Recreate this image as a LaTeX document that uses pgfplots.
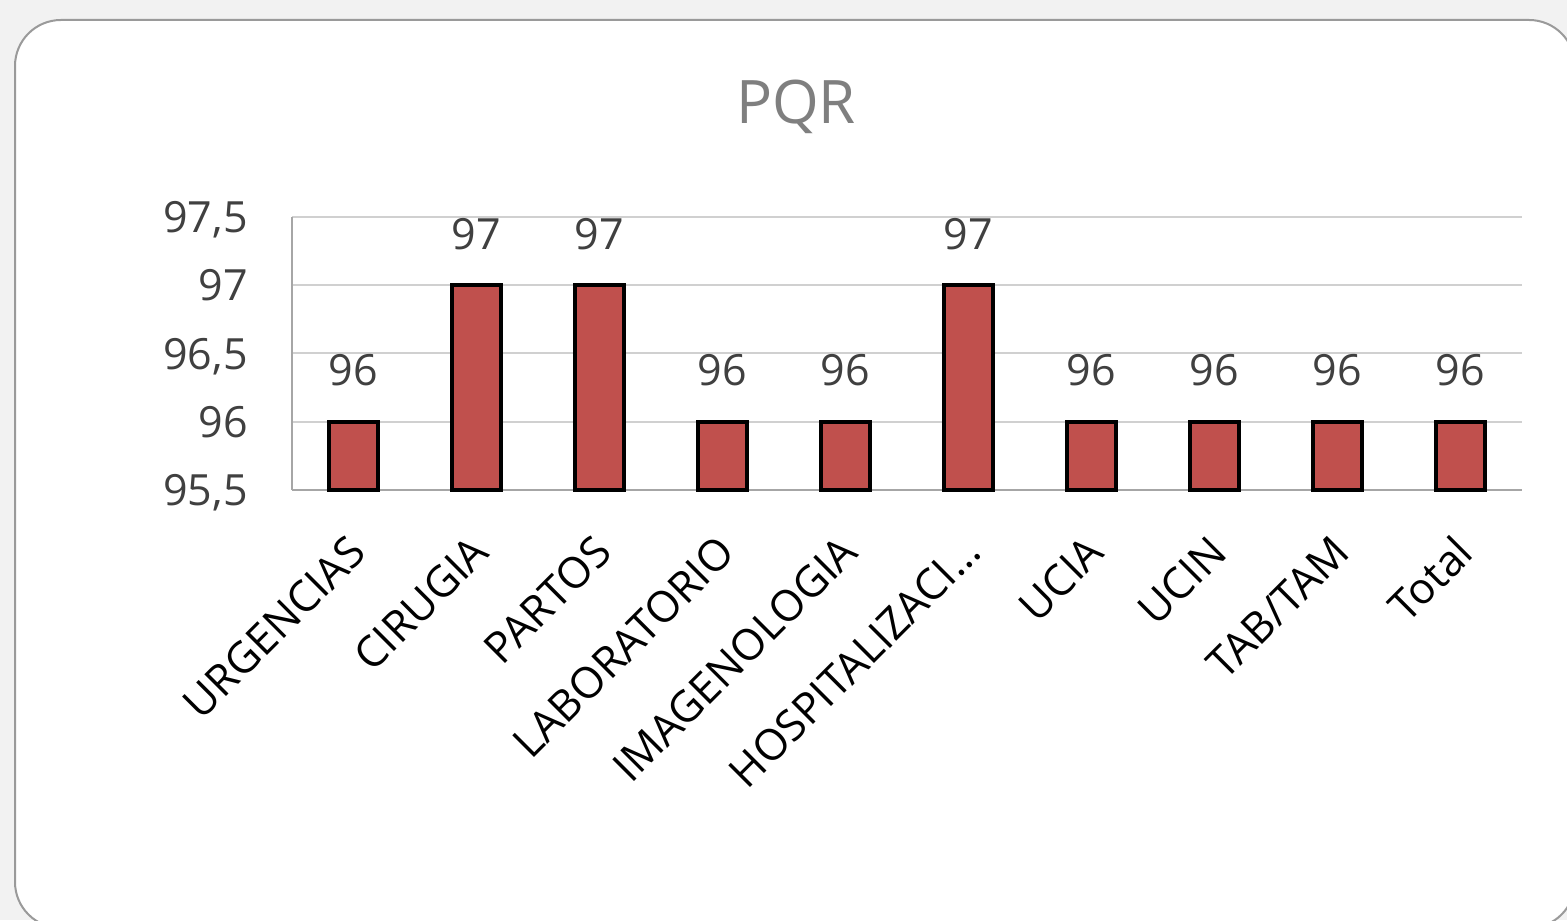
\documentclass[border=0pt]{standalone}
\usepackage{pgfplots}
\pgfplotsset{compat=1.18}
\usepackage{fontspec}
\setmainfont{Open Sans}

\definecolor{barred}{HTML}{C0504D}
\definecolor{gridgray}{HTML}{D0D0D0}
\definecolor{axgray}{HTML}{A6A6A6}
\definecolor{txtgray}{HTML}{404040}
\definecolor{titlegray}{HTML}{7F7F7F}
\definecolor{bggray}{HTML}{F2F2F2}
\definecolor{cardline}{HTML}{9A9A9A}

\newcommand{\lblfont}{\fontsize{21.5}{26}\selectfont}

\begin{document}
\begin{tikzpicture}
% 1 px of the reference = 0.5pt
\path[use as bounding box] (0,0) rectangle (783.5pt,460pt);
\begin{scope}
  \clip (0,0) rectangle (783.5pt,460pt);
  \fill[bggray] (0,0) rectangle (783.5pt,460pt);
  \draw[cardline, line width=1pt, fill=white, rounded corners=23pt]
    (7.5pt,-4pt) rectangle (787.5pt,450pt);
\end{scope}

\node[text=titlegray, font=\fontsize{30}{36}\selectfont] at (398pt,406.5pt) {PQR};

\begin{axis}[
    at={(146pt,215pt)}, anchor=south west,
    scale only axis,
    width=615pt, height=136.5pt,
    xmin=-0.5, xmax=9.5,
    ymin=95.5, ymax=97.5,
    ytick={95.5,96,96.5,97,97.5},
    xtick={0,...,9},
    xticklabels={URGENCIAS,CIRUGIA,PARTOS,LABORATORIO,IMAGENOLOGIA,HOSPITALIZACI…,UCIA,UCIN,TAB/TAM,Total},
    /pgf/number format/.cd, fixed, use comma, precision=1,
    /pgfplots/.cd,
    /pgf/number format/assume math mode=true,
    axis x line*=bottom,
    axis y line*=left,
    axis line style={-, axgray, line width=1pt},
    major tick length=0pt,
    ymajorgrids,
    major grid style={gridgray, line width=1pt},
    yticklabel style={font=\lblfont, text=txtgray, inner sep=0pt, text depth=0pt, anchor=east, xshift=-22pt},
    xticklabel style={font=\lblfont, text=black, inner sep=0pt, yshift=-27pt, xshift=2pt, rotate=45, anchor=east},
    clip=false,
]
\begin{scope}
\clip (axis cs:-0.5,95.44) rectangle (axis cs:9.5,97.9);
\addplot[
    ybar, bar width=24.5pt,
    fill=barred, draw=black, line width=1.8pt,
    nodes near coords,
    every node near coord/.append style={font=\lblfont, text=txtgray, inner sep=0pt, anchor=south, yshift=17pt},
] coordinates {
    (0,96) (1,97) (2,97) (3,96) (4,96)
    (5,97) (6,96) (7,96) (8,96) (9,96)
};
\end{scope}
\end{axis}
\end{tikzpicture}
\end{document}
